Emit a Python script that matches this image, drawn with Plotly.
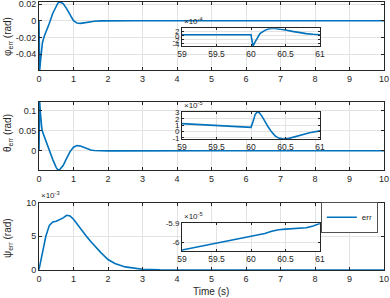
import plotly.graph_objects as go

# ---------------- data ----------------
t_main = [0, 0.01, 0.02, 0.04, 0.06, 0.08, 0.1, 0.15, 0.2, 0.3, 0.4, 0.5, 0.55, 0.6,
          0.7, 0.8, 0.9, 1.0, 1.1, 1.2, 1.3, 1.4, 1.5, 1.6, 1.8, 2.0, 2.2, 2.5, 2.8,
          3.0, 3.5, 4, 5, 6, 7, 8, 9, 10]
phi_err = [0, -0.059, -0.059, -0.05, -0.038, -0.03, -0.026, -0.019, -0.014, -0.003,
           0.009, 0.018, 0.0212, 0.0224, 0.0205, 0.0145, 0.0065, 0.0, -0.0028, -0.0032,
           -0.0026, -0.0018, -0.0011, -0.0006, -0.0002, 0, 0, 0, 0,
           0, 0, 0, 0, 0, 0, 0, 0, 0]
theta_err = [0, 0.06, 0.122, 0.095, 0.07, 0.057, 0.048, 0.036, 0.025, 0.003,
             -0.022, -0.042, -0.048, -0.047, -0.037, -0.019, -0.002, 0.009, 0.013, 0.012,
             0.0085, 0.005, 0.0022, 0.0007, -0.0003, -0.0003, -0.0002, 0, 0,
             0, 0, 0, 0, 0, 0, 0, 0, 0]
psi_err = [0, 0.0002, 0.0004, 0.0009, 0.0014, 0.002, 0.0025, 0.0039, 0.005, 0.0066,
           0.0071, 0.0072, 0.0073, 0.0074, 0.0077, 0.0081, 0.008, 0.0075, 0.0068, 0.0061,
           0.0054, 0.0048, 0.0042, 0.0036, 0.0025, 0.0015, 0.0009, 0.0004, 0.00015,
           0.00005, -0.00003, -0.00006, -0.00006, -0.00006, -0.00006, -0.00006, -0.00006, -0.00006]

t_zoom_phi = [59, 59.5, 60, 60.01, 60.03, 60.06, 60.1, 60.13, 60.2, 60.25, 60.32, 60.4,
              60.5, 60.6, 60.7, 60.8, 60.9, 61]
phi_zoom = [0.5e-4, 0.5e-4, 0.5e-4, -1.5e-4, -5.0e-4, -3.0e-4, -0.5e-4, 1.0e-4, 2.6e-4,
            3.3e-4, 3.6e-4, 3.4e-4, 2.8e-4, 2.1e-4, 1.5e-4, 1.0e-4, 0.7e-4, 0.5e-4]

t_zoom_theta = [59, 59.5, 60, 60.03, 60.06, 60.09, 60.12, 60.16, 60.2, 60.25, 60.3, 60.35,
                60.4, 60.47, 60.55, 60.65, 60.75, 60.85, 61]
theta_zoom = [1.25e-5, 0.95e-5, 0.65e-5, 1.6e-5, 2.7e-5, 3.1e-5, 3.0e-5, 2.4e-5, 1.6e-5,
              0.7e-5, -0.1e-5, -0.7e-5, -1.05e-5, -1.2e-5, -1.1e-5, -0.8e-5, -0.5e-5,
              -0.2e-5, 0.1e-5]

t_zoom_psi = [59, 59.5, 60, 60.1, 60.2, 60.3, 60.4, 60.5, 60.6, 60.7, 60.8, 60.9, 61]
psi_zoom = [-6.04e-5, -6.005e-5, -5.97e-5, -5.962e-5, -5.952e-5, -5.94e-5, -5.932e-5,
            -5.929e-5, -5.927e-5, -5.926e-5, -5.922e-5, -5.912e-5, -5.899e-5]

main_xticks = [0, 1, 2, 3, 4, 5, 6, 7, 8, 9, 10]
zoom_xticks = [59, 59.5, 60, 60.5, 61]
zoom_xtext = ["59", "59.5", "60", "60.5", "61"]

# ---------------- styling ----------------
W, H = 390, 298
BLUE = "#0072BD"
AX = "#262626"
GRID = "#e3e3e3"
FONT = "Liberation Sans, Arial, sans-serif"


def px_x(p):
    return p / W


def px_y(p):
    return 1 - p / H


fig = go.Figure()

fig.add_trace(go.Scatter(x=t_main, y=phi_err, mode="lines", line=dict(color=BLUE, width=1.6),
                         xaxis="x", yaxis="y", showlegend=False))
fig.add_trace(go.Scatter(x=t_zoom_phi, y=phi_zoom, mode="lines", line=dict(color=BLUE, width=1.6),
                         xaxis="x2", yaxis="y2", showlegend=False))
fig.add_trace(go.Scatter(x=t_main, y=theta_err, mode="lines", line=dict(color=BLUE, width=1.6),
                         xaxis="x3", yaxis="y3", showlegend=False))
fig.add_trace(go.Scatter(x=t_zoom_theta, y=theta_zoom, mode="lines", line=dict(color=BLUE, width=1.6),
                         xaxis="x4", yaxis="y4", showlegend=False))
fig.add_trace(go.Scatter(x=t_main, y=psi_err, mode="lines", line=dict(color=BLUE, width=1.6),
                         xaxis="x5", yaxis="y5", name="err", showlegend=True))
fig.add_trace(go.Scatter(x=t_zoom_psi, y=psi_zoom, mode="lines", line=dict(color=BLUE, width=1.6),
                         xaxis="x6", yaxis="y6", showlegend=False))

common = dict(showline=True, linecolor=AX, linewidth=0.8, mirror="ticks", ticks="inside",
              tickcolor=AX, tickwidth=0.8, showgrid=True, gridcolor=GRID, gridwidth=1,
              zeroline=False, automargin=False, ticklabeloverflow="allow",
              tickfont=dict(family=FONT, size=9, color=AX))

main_xdom = [px_x(39), px_x(384)]
zoom_xdom = [px_x(182), px_x(320)]

main_rows = [(2, 70), (102, 170), (202.5, 270)]
zoom_rows = [(28.3, 46), (111.7, 139.3), (223.3, 251)]

layout = dict(width=W, height=H, margin=dict(l=0, r=0, t=0, b=0, autoexpand=False),
              paper_bgcolor="white", plot_bgcolor="white",
              font=dict(family=FONT, color=AX), hovermode=False)

main_yranges = [[-0.059, 0.0224], [-0.048, 0.122], [-0.00006, 0.01]]
main_yticks = [([-0.04, -0.02, 0, 0.02], ["-0.04", "-0.02", "0", "0.02"]),
               ([0, 0.05, 0.1], ["0", "0.05", "0.1"]),
               ([0, 0.005, 0.01], ["0", "5", "10"])]
zoom_yranges = [[-5.0e-4, 3.6e-4], [-1.25e-5, 3.15e-5], [-6.045e-5, -5.898e-5]]
zoom_yticks = [([-4e-4, -2e-4, 0, 2e-4], ["-4", "-2", "0", "2"]),
               ([-1e-5, 0, 1e-5, 2e-5, 3e-5], ["-1", "0", "1", "2", "3"]),
               ([-6e-5, -5.9e-5], ["-6", "-5.9"])]

for i in range(3):
    mx = 2 * i + 1
    zx = 2 * i + 2
    mxn = "xaxis" if mx == 1 else f"xaxis{mx}"
    myn = "yaxis" if mx == 1 else f"yaxis{mx}"
    top, bot = main_rows[i]
    layout[mxn] = dict(common, domain=main_xdom, range=[0, 10], tickvals=main_xticks,
                       anchor="y" if mx == 1 else f"y{mx}", ticklen=3.5)
    layout[myn] = dict(common, domain=[px_y(bot), px_y(top)], range=main_yranges[i],
                       tickvals=main_yticks[i][0], ticktext=main_yticks[i][1],
                       anchor="x" if mx == 1 else f"x{mx}", ticklen=3.5)
    ztop, zbot = zoom_rows[i]
    layout[f"xaxis{zx}"] = dict(common, domain=zoom_xdom, range=[59, 61], tickvals=zoom_xticks,
                                ticktext=zoom_xtext, anchor=f"y{zx}", ticklen=2,
                                tickfont=dict(family=FONT, size=8.5, color=AX))
    layout[f"yaxis{zx}"] = dict(common, domain=[px_y(zbot), px_y(ztop)], range=zoom_yranges[i],
                                tickvals=zoom_yticks[i][0], ticktext=zoom_yticks[i][1],
                                anchor=f"x{zx}", ticklen=2,
                                tickfont=dict(family=FONT, size=8, color=AX))

layout["legend"] = dict(x=px_x(321), y=px_y(202), xanchor="left", yanchor="top",
                        bgcolor="white", bordercolor=AX, borderwidth=0.8,
                        font=dict(family=FONT, size=8, color=AX),
                        tracegroupgap=0, itemwidth=30)

ann = []
ytitles = [("φ<sub>err</sub> (rad)", 37), ("θ<sub>err</sub> (rad)", 133), ("ψ<sub>err</sub> (rad)", 238)]
for txt, yc in ytitles:
    ann.append(dict(text=txt, x=px_x(8), y=px_y(yc), xref="paper", yref="paper",
                    xanchor="center", yanchor="middle", textangle=-90, showarrow=False,
                    font=dict(family=FONT, size=10, color=AX)))
ann.append(dict(text="Time (s)", x=px_x(211.5), y=px_y(291.5), xref="paper", yref="paper",
                xanchor="center", yanchor="middle", showarrow=False,
                font=dict(family=FONT, size=10, color=AX)))
for txt, xl, yb in [("×10<sup>-3</sup>", 39, 201.5), ("×10<sup>-4</sup>", 182, 28),
                    ("×10<sup>-5</sup>", 182, 111.5), ("×10<sup>-5</sup>", 182, 223)]:
    ann.append(dict(text=txt, x=px_x(xl), y=px_y(yb), xref="paper", yref="paper",
                    xanchor="left", yanchor="bottom", showarrow=False,
                    font=dict(family=FONT, size=8, color=AX)))
layout["annotations"] = ann

fig.update_layout(**layout)
fig.write_html("out.html", config={"displayModeBar": False},
               post_script="document.body.style.margin='0';document.body.style.overflow='hidden';")
